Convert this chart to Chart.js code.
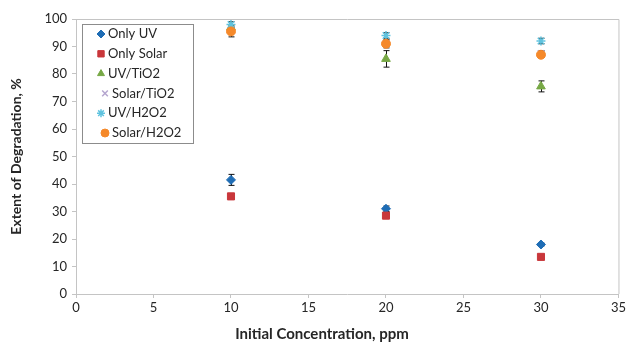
<!DOCTYPE html>
<html>
<head>
<meta charset="utf-8">
<script src="https://cdn.jsdelivr.net/npm/chart.js@4.4.1/dist/chart.umd.min.js"></script>
<style>
  html, body { margin: 0; padding: 0; background: #fff; }
  #wrap { width: 628px; height: 346px; }
</style>
</head>
<body>
<div id="wrap"><canvas id="chart" width="628" height="346"></canvas></div>
<script>
const concentrations = [10, 20, 30];

const onlyUV = [41.5, 31, 18];
const onlyUVErr = [2, 1, 0.5];
const onlySolar = [35.5, 28.5, 13.5];
const onlySolarErr = [1, 1, 0.5];
const uvTiO2 = [97, 85.5, 75.5];
const uvTiO2Err = [1, 3, 2];
const solarTiO2 = [96, 91, 87.5];
const solarTiO2Err = [1, 1, 1];
const uvH2O2 = [98, 94, 92];
const uvH2O2Err = [1, 1, 1];
const solarH2O2 = [95.5, 91, 87];
const solarH2O2Err = [2, 1.5, 1];

const xTicks = [0, 5, 10, 15, 20, 25, 30, 35];
const yTicks = [0, 10, 20, 30, 40, 50, 60, 70, 80, 90, 100];

const FONT = 'Lato, "Open Sans", sans-serif';
const TEXT = '#262626';

function pts(values) {
    return concentrations.map((c, i) => ({ x: c, y: values[i] }));
}

function series(label, values, errors, style, color, radius) {
    return {
        label: label,
        data: pts(values),
        errors: errors,
        pointStyle: style,
        pointRadius: radius,
        pointBackgroundColor: color,
        pointBorderColor: color,
        pointBorderWidth: (style === 'crossRot' || style === 'star') ? 1.5 : 1,
        showLine: false
    };
}

const datasets = [
    series('Only UV', onlyUV, onlyUVErr, 'rectRot', '#1f6db5', 4.5),
    series('Only Solar', onlySolar, onlySolarErr, 'rect', '#c9373b', 5),
    series('UV/TiO2', uvTiO2, uvTiO2Err, 'triangle', '#77a845', 5),
    series('Solar/TiO2', solarTiO2, solarTiO2Err, 'crossRot', '#b5a6cf', 4.5),
    series('UV/H2O2', uvH2O2, uvH2O2Err, 'star', '#5fc3df', 4.5),
    series('Solar/H2O2', solarH2O2, solarH2O2Err, 'circle', '#f5892a', 4.5)
];
// later series sit on top
datasets.forEach((ds, i) => { ds.order = datasets.length - i; });

// black whiskers with caps, drawn under the markers
const errorBars = {
    id: 'errorBars',
    beforeDatasetsDraw(chart) {
        const ctx = chart.ctx;
        const xs = chart.scales.x, ys = chart.scales.y;
        ctx.save();
        ctx.strokeStyle = '#111';
        ctx.lineWidth = 1;
        chart.data.datasets.forEach(ds => {
            ds.data.forEach((p, i) => {
                const e = ds.errors[i];
                const px = Math.round(xs.getPixelForValue(p.x)) + 0.5;
                const top = ys.getPixelForValue(p.y + e);
                const bot = ys.getPixelForValue(p.y - e);
                ctx.beginPath();
                ctx.moveTo(px, top); ctx.lineTo(px, bot);
                ctx.moveTo(px - 3, top); ctx.lineTo(px + 3, top);
                ctx.moveTo(px - 3, bot); ctx.lineTo(px + 3, bot);
                ctx.stroke();
            });
        });
        ctx.restore();
    }
};

// plot frame, x title and the boxed legend in the upper left corner
const frameAndLegend = {
    id: 'frameAndLegend',
    afterDraw(chart) {
        const ctx = chart.ctx;
        const a = chart.chartArea;
        ctx.save();
        ctx.strokeStyle = '#c4c4c4';
        ctx.lineWidth = 1;
        ctx.beginPath();
        ctx.moveTo(a.left, a.top + 0.5); ctx.lineTo(a.right + 0.5, a.top + 0.5);
        ctx.lineTo(a.right + 0.5, a.bottom);
        ctx.stroke();

        ctx.fillStyle = TEXT;
        ctx.font = 'bold 15px ' + FONT;
        ctx.textAlign = 'center';
        ctx.textBaseline = 'middle';
        ctx.fillText('Initial Concentration, ppm', 322, 334);

        const bx = 82.5, by = 24.5, bw = 111, bh = 119;
        ctx.strokeStyle = '#8c8c8c';
        ctx.strokeRect(bx, by, bw, bh);

        ctx.font = '13px ' + FONT;
        ctx.textAlign = 'left';
        chart.data.datasets.forEach((ds, i) => {
            const y = by + 9.5 + i * 19.8;
            const mx = ds.label.indexOf('Solar/') === 0 ? 105 : 101;
            ctx.fillStyle = ds.pointBackgroundColor;
            ctx.strokeStyle = ds.pointBorderColor;
            ctx.lineWidth = ds.pointBorderWidth;
            Chart.helpers.drawPoint(ctx, {
                pointStyle: ds.pointStyle,
                radius: ds.pointStyle === 'rect' ? 4.5 : 4,
                rotation: 0,
                borderWidth: ds.pointBorderWidth
            }, mx, y);
            ctx.fillStyle = TEXT;
            ctx.fillText(ds.label, mx + 7, y);
        });
        ctx.restore();
    }
};

new Chart(document.getElementById('chart').getContext('2d'), {
    type: 'scatter',
    data: { datasets: datasets },
    plugins: [errorBars, frameAndLegend],
    options: {
        responsive: false,
        animation: false,
        layout: { padding: { top: 19, right: 6, left: 0, bottom: 0 } },
        plugins: {
            legend: { display: false },
            tooltip: { enabled: false }
        },
        scales: {
            x: {
                type: 'linear',
                min: 0,
                max: 35,
                afterBuildTicks: s => { s.ticks = xTicks.map(v => ({ value: v })); },
                afterFit: s => { s.height = 52; },
                grid: { drawOnChartArea: false, color: '#c4c4c4', tickLength: 4 },
                border: { color: '#c4c4c4' },
                ticks: { color: TEXT, font: { family: FONT, size: 13 }, padding: 2 }
            },
            y: {
                min: 0,
                max: 100,
                afterBuildTicks: s => { s.ticks = yTicks.map(v => ({ value: v })); },
                afterFit: s => { s.width = 76; },
                grid: { drawOnChartArea: false, color: '#c4c4c4', tickLength: 4 },
                border: { color: '#c4c4c4' },
                ticks: { color: TEXT, font: { family: FONT, size: 13 }, padding: 5 },
                title: {
                    display: true,
                    text: 'Extent of Degradation, %',
                    color: TEXT,
                    font: { family: FONT, size: 14, weight: 'bold' },
                    padding: { top: 8, bottom: 5 }
                }
            }
        }
    }
});
</script>
</body>
</html>
